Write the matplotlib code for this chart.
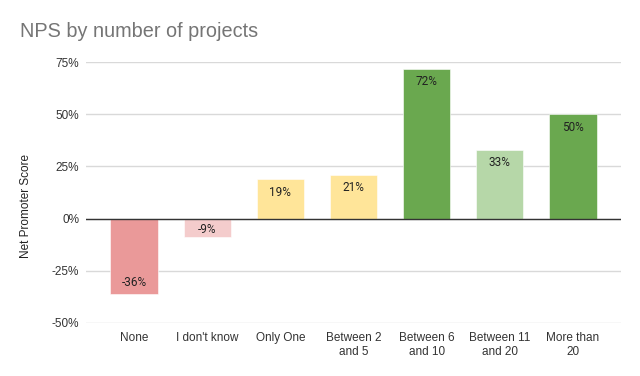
import matplotlib
matplotlib.use("Agg")
import matplotlib.pyplot as plt
from matplotlib.ticker import FixedLocator

categories = ["None", "I don't know", "Only One", "Between 2\nand 5",
              "Between 6\nand 10", "Between 11\nand 20", "More than\n20"]
nps = [-36, -9, 19, 21, 72, 33, 50]
bar_colors = ["#ea9999", "#f4cccc", "#ffe599", "#ffe599",
              "#6aa84f", "#b6d7a8", "#6aa84f"]
yticks = [-50, -25, 0, 25, 50, 75]
ytick_labels = ["-50%", "-25%", "0%", "25%", "50%", "75%"]

fig = plt.figure(figsize=(6.4, 3.76), dpi=100)
ax = fig.add_axes([86/640, 1-322.7/376, (621-86)/640, (322.7-62.3)/376])

x = list(range(len(categories)))
bars = ax.bar(x, nps, width=0.65, color=bar_colors, zorder=3,
              edgecolor="white", linewidth=0.4)

ax.set_ylim(-50, 75)
ax.set_xlim(-0.66, len(categories) - 1 + 0.66)
ax.set_yticks(yticks)
ax.set_yticklabels(ytick_labels)
ax.set_xticks(x)
ax.set_xticklabels(categories, linespacing=1.3)

for s in ax.spines.values():
    s.set_visible(False)
ax.tick_params(axis="both", length=0, labelsize=8.5, labelcolor="#333333",
               labelfontfamily="Liberation Sans")
ax.tick_params(axis="y", pad=5)
ax.tick_params(axis="x", pad=6.5)
ax.grid(axis="y", color="#d9d9d9", linewidth=1.0, zorder=0)
ax.axhline(0, color="#333333", linewidth=1.0, zorder=4)

for xi, v in zip(x, nps):
    if v >= 0:
        off = -9.5
    else:
        off = 8.2 if abs(v) > 15 else 5.5
    ax.annotate(f"{v}%", xy=(xi, v), xytext=(0, off), textcoords="offset points",
                ha="center", va="center", fontsize=8.5, family="Roboto",
                color="#222222", zorder=5)

fig.text(20/640, 1-37.3/376, "NPS by number of projects", fontsize=14.3,
         family="Liberation Sans", color="#757575", va="baseline", ha="left")
fig.text(26/640, 1-206/376, "Net Promoter Score", fontsize=8.5,
         family="Liberation Sans", color="#222222", rotation=90,
         ha="center", va="center")

fig.savefig("out.png", dpi=100)
